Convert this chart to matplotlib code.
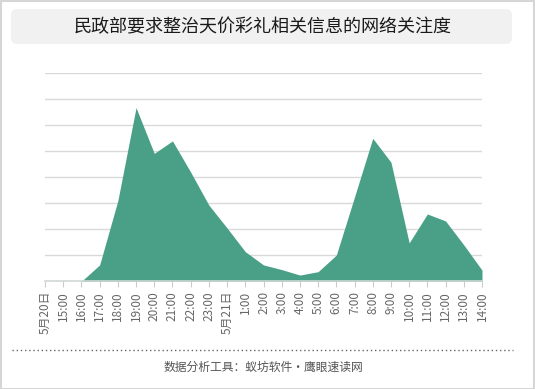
import matplotlib
matplotlib.use('Agg')
import matplotlib.pyplot as plt
import numpy as np
from matplotlib.patches import FancyBboxPatch, Rectangle
from matplotlib.lines import Line2D
from matplotlib.transforms import IdentityTransform

plt.rcParams['font.family'] = ['Noto Sans CJK SC', 'DejaVu Sans']

# hourly attention, 5/20 14:00 -> 5/21 14:00
labels = ['5月20日', '15:00', '16:00', '17:00', '18:00', '19:00', '20:00', '21:00',
          '22:00', '23:00', '5月21日', '1:00', '2:00', '3:00', '4:00', '5:00',
          '6:00', '7:00', '8:00', '9:00', '10:00', '11:00', '12:00', '13:00', '14:00']
values = [0, 0, 0, 6.3, 31, 66.8, 49.2, 54.0, 42, 29.3, 20.5, 11.4, 6.3, 4.5,
          2.4, 3.7, 10.1, 32.5, 55.0, 45.8, 14.8, 25.9, 23.2, 14.0, 4.3]

title = '民政部要求整治天价彩礼相关信息的网络关注度'
footer = '数据分析工具：蚁坊软件·鹰眼速读网'

W, H = 535, 389
fig = plt.figure(figsize=(W / 100, H / 100), dpi=100)
fig.patch.set_facecolor('white')

# outer border
fig.patches.append(Rectangle((0.5, 0.5), W - 1.5, H - 1.5, transform=IdentityTransform(),
                             fill=False, edgecolor='#d6d6d6', linewidth=1.5))

# title box
fig.patches.append(FancyBboxPatch((11 + 6, H - 44 + 6), 501 - 12, 35 - 12,
                                  boxstyle='round,pad=6', transform=IdentityTransform(),
                                  facecolor='#f1f1f1', edgecolor='none'))
fig.text(263 / W, 1 - 27 / H, title, ha='center', va='center', fontsize=13, color='#1a1a1a')

# plot area
left, right, top, bottom = 45, 482, 73.3, 281.3
ax = fig.add_axes([left / W, 1 - bottom / H, (right - left) / W, (bottom - top) / H])
x = np.arange(len(values))
ax.fill_between(x, 0, values, color='#49a087', linewidth=0)
ax.set_xlim(0, len(values) - 1)
ax.set_ylim(0, 80)
ax.set_yticks(np.arange(10, 81, 10))
ax.yaxis.grid(True, color='#d9d9d9', linewidth=1)
ax.set_axisbelow(True)
ax.tick_params(axis='y', left=False, labelleft=False)
for s in ['top', 'right', 'left']:
    ax.spines[s].set_visible(False)
ax.spines['bottom'].set_color('#cfd8d4')
ax.spines['bottom'].set_linewidth(1.2)

ax.set_xticks(x)
ax.set_xticklabels(labels, rotation=90, fontsize=8.5, color='#666666', va='top', ha='center')
ax.tick_params(axis='x', length=4, color='#cccccc', pad=3)

# footer
fig.add_artist(Line2D([12 / W, 513 / W], [1 - 350 / H, 1 - 350 / H], transform=fig.transFigure,
                      color='#666666', linewidth=1, linestyle=(0, (1, 2))))
fig.text(263 / W, 1 - 367 / H, footer, ha='center', va='center', fontsize=8.5, color='#555555')

fig.savefig('out.png', dpi=100, facecolor='white')
